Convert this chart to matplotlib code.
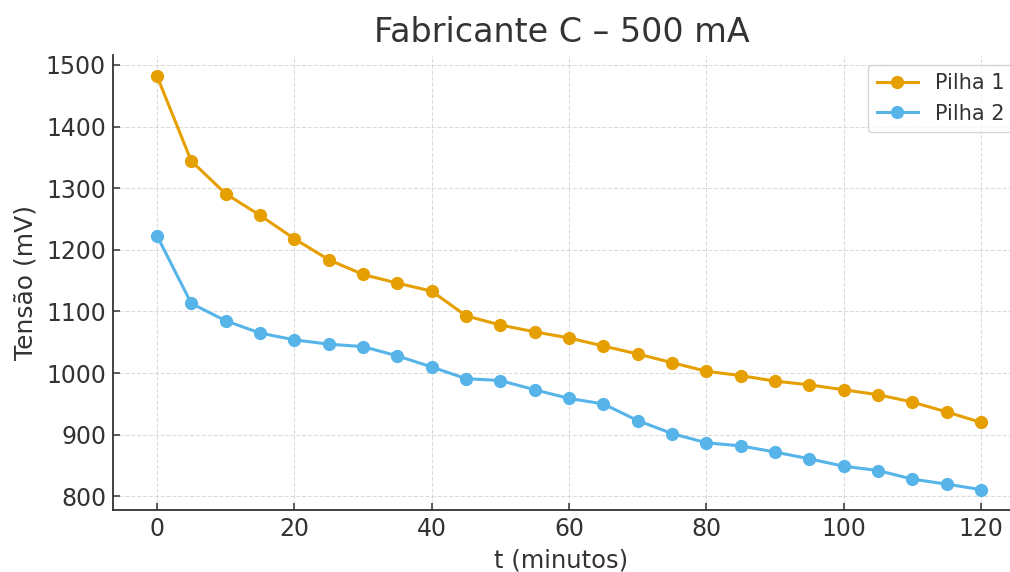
import numpy as np
import matplotlib
matplotlib.use('Agg')
import matplotlib.pyplot as plt

# tempo (min) e tensão (mV) das duas pilhas
t_min = [0, 5, 10, 15, 20, 25, 30, 35, 40, 45, 50, 55, 60,
         65, 70, 75, 80, 85, 90, 95, 100, 105, 110, 115, 120]
pilha1 = [1482, 1344, 1291, 1256, 1218, 1184, 1160, 1146, 1133, 1093, 1078, 1067, 1057,
          1044, 1031, 1017, 1003, 996, 987, 981, 973, 965, 953, 937, 920]
pilha2 = [1223, 1113, 1085, 1065, 1054, 1047, 1043, 1028, 1010, 991, 988, 973, 959,
          950, 923, 902, 887, 882, 872, 861, 849, 842, 828, 820, 811]

txt = '#333333'
plt.rcParams['font.family'] = ['DejaVu Sans']

fig = plt.figure(figsize=(10.1, 5.72), dpi=100)
ax = fig.add_axes([113/1010, 1 - 510/572, 897/1010, 455/572])

ax.plot(t_min, pilha1, marker='o', color='#E69F00', lw=2.2, ms=8.5, label='Pilha 1')
ax.plot(t_min, pilha2, marker='o', color='#56B4E9', lw=2.2, ms=8.5, label='Pilha 2')

ax.set_xlim(-6.4, 124.2)
ax.set_ylim(778, 1516)
ax.set_xticks(np.arange(0, 121, 20))
ax.set_yticks(np.arange(800, 1501, 100))

ax.grid(True, ls='--', color='#cccccc', lw=0.8, alpha=0.7)
for s in ['top', 'right']:
    ax.spines[s].set_visible(False)
for s in ['left', 'bottom']:
    ax.spines[s].set_color('#333333')
    ax.spines[s].set_linewidth(1.3)
ax.tick_params(labelsize=17, colors=txt, length=5, width=1.1, direction='in', pad=5)

ax.set_title('Fabricante C – 500 mA', fontsize=24, color=txt, pad=9)
ax.set_xlabel('t (minutos)', fontsize=17.5, color=txt, labelpad=5.5)
ax.set_ylabel('Tensão (mV)', fontsize=18, color=txt, labelpad=6)

leg = ax.legend(loc='upper right', fontsize=15, frameon=True,
                bbox_to_anchor=(1.003, 0.978), borderaxespad=0)
for tx in leg.get_texts():
    tx.set_color(txt)

fig.savefig('out.png', dpi=100)
